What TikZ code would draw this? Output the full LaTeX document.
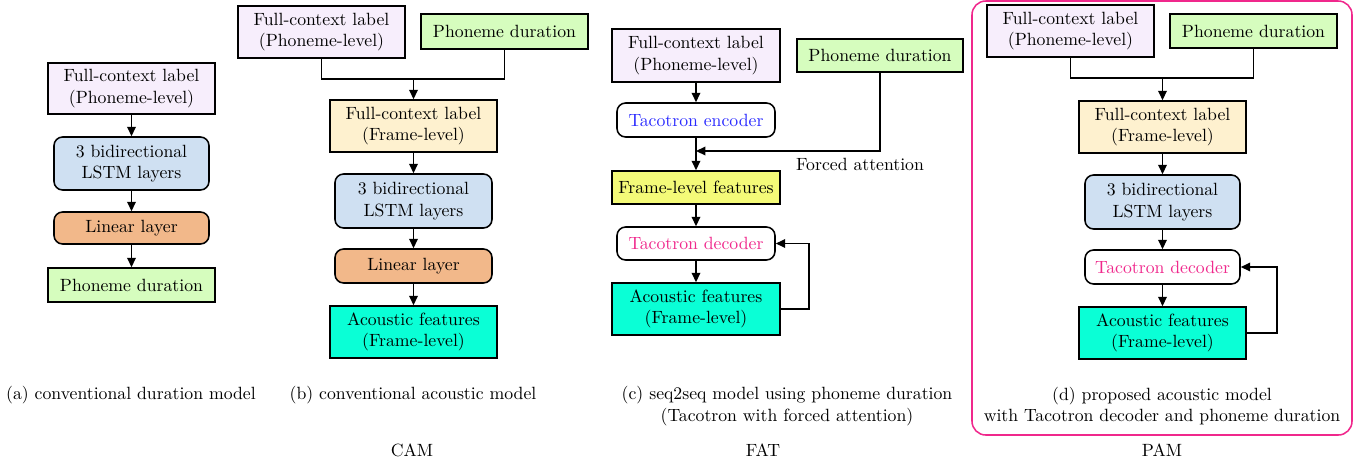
\documentclass[tikz,border=0pt]{standalone}
\usetikzlibrary{arrows.meta}
\definecolor{cLav}{HTML}{F7EEFC}
\definecolor{cBlue}{HTML}{CFE0F2}
\definecolor{cOrange}{HTML}{F2B88A}
\definecolor{cGreen}{HTML}{D6FDBE}
\definecolor{cCream}{HTML}{FEF1CF}
\definecolor{cCyan}{HTML}{0AFFD6}
\definecolor{cYellow}{HTML}{F4FA78}
\definecolor{cEnc}{HTML}{2A2AFF}
\definecolor{cDec}{HTML}{F0288C}
\definecolor{cFrame}{HTML}{F0288C}
\newcommand\bx[7]{\node[#6, minimum width={(#4-#2)*0.5814pt}, minimum height={(#5-#3)*0.5814pt}] (#1) at ({(#2+#4)/2},{(#3+#5)/2}) {#7};}
\tikzset{
  base/.style={draw, line width=0.9pt, inner sep=1pt, align=center},
  sq/.style={base},
  rnd/.style={base, rounded corners=5pt},
  arr/.style={line width=0.9pt, -{Triangle[length=5.5pt,width=5pt]}},
  ln/.style={line width=0.9pt},
}
\begin{document}
\begin{tikzpicture}[x=0.5814pt, y=-0.5814pt, font=\fontsize{10.3}{12.6}\selectfont]
\useasboundingbox (0,0) rectangle (1357,461);
% (a)
\bx{a1}{48}{63}{215}{114}{sq, fill=cLav}{Full-context label\\(Phoneme-level)}
\bx{a2}{54}{137}{209}{190}{rnd, fill=cBlue}{3 bidirectional\\LSTM layers}
\bx{a3}{54}{212}{209}{244}{rnd, fill=cOrange}{Linear layer}
\bx{a4}{48}{268}{215}{302}{sq, fill=cGreen}{Phoneme duration}
\draw[arr] (a1) -- (a2);
\draw[arr] (a2) -- (a3);
\draw[arr] (a3) -- (a4);
% (b)
\bx{b1}{238}{6}{405}{58}{sq, fill=cLav}{Full-context label\\(Phoneme-level)}
\bx{b2}{421}{14}{588}{49}{sq, fill=cGreen}{Phoneme duration}
\bx{b3}{330}{100}{497}{152}{sq, fill=cCream}{Full-context label\\(Frame-level)}
\bx{b4}{335}{174}{492}{228}{rnd, fill=cBlue}{3 bidirectional\\LSTM layers}
\bx{b5}{335}{249}{492}{283}{rnd, fill=cOrange}{Linear layer}
\bx{b6}{330}{306}{497}{358}{sq, fill=cCyan}{Acoustic features\\(Frame-level)}
\coordinate (bj) at (413.5,79);
\draw[ln] (b1.south) |- (bj) -| (b2.south);
\draw[arr] (bj) -- (b3.north);
\draw[arr] (b3) -- (b4);
\draw[arr] (b4) -- (b5);
\draw[arr] (b5) -- (b6);
% (c)
\bx{c1}{612}{29}{780}{82}{sq, fill=cLav}{Full-context label\\(Phoneme-level)}
\bx{c2}{797}{39}{963}{72}{sq, fill=cGreen}{Phoneme duration}
\bx{c3}{617}{103}{775}{137}{rnd, fill=white}{\textcolor{cEnc}{Tacotron encoder}}
\bx{c4}{612}{171}{780}{204}{sq, fill=cYellow}{Frame-level features}
\bx{c5}{617}{227}{775}{260}{rnd, fill=white}{\textcolor{cDec}{Tacotron decoder}}
\bx{c6}{612}{283}{780}{335}{sq, fill=cCyan}{Acoustic features\\(Frame-level)}
\draw[arr] (c1) -- (c3);
\draw[arr] (c3) -- (c4);
\coordinate (cj) at (696,151);
\draw[arr] (c2.south) |- (cj);
\node (fa) at (860,164) {Forced attention};
\draw[arr] (c4) -- (c5);
\draw[arr] (c5) -- (c6);
\draw[arr] (c6.east) -- ++(28,0) |- (c5.east);
% (d)
\draw[cFrame, line width=0.9pt, rounded corners=8pt] (972,1) rectangle (1352,435);
\bx{d1}{987}{5}{1154}{57}{sq, fill=cLav}{Full-context label\\(Phoneme-level)}
\bx{d2}{1170}{14}{1337}{48}{sq, fill=cGreen}{Phoneme duration}
\bx{d3}{1079}{101}{1246}{153}{sq, fill=cCream}{Full-context label\\(Frame-level)}
\bx{d4}{1085}{175}{1240}{229}{rnd, fill=cBlue}{3 bidirectional\\LSTM layers}
\bx{d5}{1085}{250}{1240}{284}{rnd, fill=white}{\textcolor{cDec}{Tacotron decoder}}
\bx{d6}{1079}{307}{1246}{359}{sq, fill=cCyan}{Acoustic features\\(Frame-level)}
\coordinate (dj) at (1162.5,78);
\draw[ln] (d1.south) |- (dj) -| (d2.south);
\draw[arr] (dj) -- (d3.north);
\draw[arr] (d3) -- (d4);
\draw[arr] (d4) -- (d5);
\draw[arr] (d5) -- (d6);
\draw[arr] (d6.east) -- ++(30,0) |- (d5.east);
% captions
\node (capa) at (131,395) {(a) conventional duration model};
\node (capb) at (413,395) {(b) conventional acoustic model};
\node[align=center] (capc) at (787,406) {(c) seq2seq model using phoneme duration\\(Tacotron with forced attention)};
\node[align=center] (capd) at (1162,406) {(d) proposed acoustic model\\with Tacotron decoder and phoneme duration};
\node (cam) at (412,450) {CAM};
\node (fat) at (763,450) {FAT};
\node (pam) at (1162,450) {PAM};
\end{tikzpicture}
\end{document}
